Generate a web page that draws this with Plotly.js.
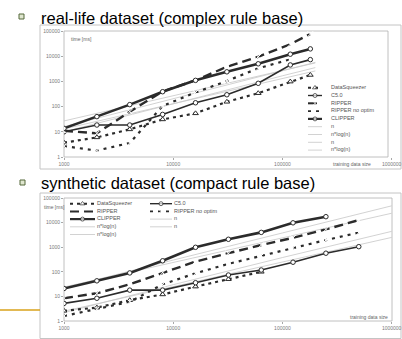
<!DOCTYPE html>
<html><head><meta charset="utf-8">
<script src="https://cdn.plot.ly/plotly-3.0.1.min.js"></script>
<style>html,body{margin:0;padding:0;background:#fff;overflow:hidden}#chart{width:402px;height:339px}</style>
</head><body><div id="chart"></div>
<script>
// ---------- data ----------
const seriesNames = ['DataSqueezer', 'C5.0', 'RIPPER', 'RIPPER no optim', 'CLIPPER'];
const refNames = ['n', 'n*log(n)', 'n', 'n*log(n)'];

const realX = [1000, 2000, 4000, 8000, 16000, 31000, 60000, 118000, 180000];
const realDataSqueezer = [3.7, 6, 12.5, 31, 54, 155, 340, 980, 1800];
const realC50 = [10, 18.6, 18.6, 49, 142, 295, 840, 4500, 7300];
const realRipper = [11, 8.7, 63, 400, 1100, 3800, 9500, 30000, 76000];
const realRipperNoOpt = [2.7, 1.8, 3.6, 106, 365, 1040, 3300, 7500, null];
const realClipper = [13.7, 40, 120, 390, 1100, 2400, 5000, 12000, 19500];
const realRefX = [1000, 10000, 100000, 200000];
const realRefN1 = [27, 270, 2700, 5400];
const realRefNlogN1 = [10, 133, 1670, 3530];
const realRefN2 = [13, 130, 1300, 2600];
const realRefNlogN2 = [16, 210, 2700, 5700];

const synX = [1000, 2000, 4000, 8000, 16000, 32000, 64000, 125000, 250000, 500000];
const synDataSqueezer = [2.6, 3.5, 7, 12, 25, 50, 100, null, null, null];
const synC50 = [5.2, 8.4, 18, 18, 36, 74, 118, 245, 570, 1050];
const synRipper = [8.4, 13.4, 31, 92, 260, 570, 1230, 2400, 5300, 12600];
const synRipperNoOpt = [1.6, 3, 6, 31, 87, 210, 450, 960, 1950, 3900];
const synClipper = [21, 43, 90, 280, 990, 2100, 4000, 9800, 17400, null];
const synRefX = [1000, 10000, 100000, 1000000];
const synRefN1 = [24, 240, 2400, 24000];
const synRefNlogN1 = [22, 300, 3800, 48000];
const synRefN2 = [2.5, 25, 250, 2500];
const synRefNlogN2 = [2.2, 30, 380, 4400];

const yTickVals = [1, 10, 100, 1000, 10000, 100000];
const yTickText = ['1', '10', '100', '1000', '10000', '100000'];
const xTickVals = [1000, 10000, 100000, 1000000];
const xTickText = ['1000', '10000', '100000', '1000000'];

const bulletTexts = ['real-life dataset (complex rule base)', 'synthetic dataset (compact rule base)'];
const yTitle = 'time [ms]';
const xTitle = 'training data size';

// ---------- styles ----------
const W = 402, H = 339;
const px = x => x / W;
const py = y => 1 - y / H;
const FONT = 'Liberation Sans, Arial, sans-serif';
const INK = '#2b2b2b';
const styles = [
  {dash: '3px,4px', width: 2.2, symbol: 'triangle-up', size: 5},
  {dash: 'solid', width: 1.6, symbol: 'circle', size: 4.5},
  {dash: '9px,5px', width: 2.4, symbol: 'x-thin-open', size: 5.5},
  {dash: '3px,5px', width: 2.2, symbol: 'x-thin-open', size: 5.5},
  {dash: 'solid', width: 2.6, symbol: 'circle', size: 4.5}
];
const refStyle = {color: '#c6c6c6', width: 0.8};

function seriesTrace(x, y, i, xa, ya) {
  const s = styles[i];
  return {x, y, xaxis: xa, yaxis: ya, type: 'scatter', mode: 'lines+markers', name: seriesNames[i],
    connectgaps: false, showlegend: false, hoverinfo: 'skip',
    line: {color: INK, width: s.width, dash: s.dash},
    marker: {symbol: s.symbol, size: s.size, color: '#fff', line: {color: INK, width: 1}}};
}
function refTrace(x, y, i, xa, ya) {
  return {x, y, xaxis: xa, yaxis: ya, type: 'scatter', mode: 'lines', name: refNames[i],
    showlegend: false, hoverinfo: 'skip', line: {color: refStyle.color, width: refStyle.width}};
}

const traces = [];
[realRefN1, realRefNlogN1, realRefN2, realRefNlogN2].forEach((y, i) => traces.push(refTrace(realRefX, y, i, 'x', 'y')));
[synRefN1, synRefNlogN1, synRefN2, synRefNlogN2].forEach((y, i) => traces.push(refTrace(synRefX, y, i, 'x2', 'y2')));
[realDataSqueezer, realC50, realRipper, realRipperNoOpt, realClipper].forEach((y, i) => traces.push(seriesTrace(realX, y, i, 'x', 'y')));
[synDataSqueezer, synC50, synRipper, synRipperNoOpt, synClipper].forEach((y, i) => traces.push(seriesTrace(synX, y, i, 'x2', 'y2')));

// ---------- manual legends (own hidden axes, pixel units) ----------
const legendLabels = seriesNames.concat(refNames);
function legendEntry(x0, x1, xt, yv, i, xa, ya) {
  const isRef = i >= seriesNames.length;
  const xm = (x0 + x1) / 2;
  if (isRef) {
    traces.push({x: [x0, x1], y: [yv, yv], xaxis: xa, yaxis: ya, mode: 'lines', showlegend: false, hoverinfo: 'skip',
      line: {color: refStyle.color, width: refStyle.width}});
  } else {
    const s = styles[i];
    traces.push({x: [x0, xm, x1], y: [yv, yv, yv], xaxis: xa, yaxis: ya, mode: 'lines+markers', showlegend: false, hoverinfo: 'skip',
      line: {color: INK, width: s.width * 0.85, dash: s.dash},
      marker: {symbol: s.symbol, size: [0, s.size - 0.5, 0], color: '#fff', line: {color: INK, width: 1}}});
  }
  traces.push({x: [xt], y: [yv], xaxis: xa, yaxis: ya, mode: 'text', text: [legendLabels[i]], textposition: 'middle right',
    showlegend: false, hoverinfo: 'skip', cliponaxis: false, textfont: {size: 5.5, color: '#555', family: FONT}});
}
legendLabels.forEach((l, i) => legendEntry(308, 322, 331, 87.7 + 7.8 * i, i, 'x3', 'y3'));
legendLabels.forEach((l, i) => {
  const col = i % 2, row = Math.floor(i / 2);
  if (col === 0) legendEntry(70, 95, 97, 203.7 + 7.7 * row, i, 'x4', 'y4');
  else legendEntry(150, 172, 174, 203.7 + 7.7 * row, i, 'x4', 'y4');
});

// ---------- layout ----------
const tickFont = {size: 5, color: '#7a7a7a', family: FONT};
function xAxis(domain, anchor) {
  return {type: 'log', domain, range: [3, 6.003], anchor, autorange: false, showline: false, ticks: 'outside', ticklen: 2,
    tickcolor: '#a8a8a8', tickvals: xTickVals, ticktext: xTickText, tickfont: tickFont, ticklabeloverflow: 'allow',
    showgrid: false, zeroline: false, fixedrange: true};
}
function yAxis(domain, anchor) {
  return {type: 'log', domain, range: [0, 5], anchor, autorange: false, showline: false, ticks: 'outside', ticklen: 2,
    tickcolor: '#a8a8a8', tickvals: yTickVals, ticktext: yTickText, tickfont: tickFont, ticklabeloverflow: 'allow',
    showgrid: false, zeroline: false, fixedrange: true};
}
function hidden(domain, range, anchor) {
  return {domain, range, anchor, visible: false, fixedrange: true, autorange: false};
}
function rect(x0, y0, x1, y1, color, width, fill) {
  return {type: 'rect', xref: 'paper', yref: 'paper', x0: px(x0), x1: px(x1), y0: py(y1), y1: py(y0),
    line: {color, width}, fillcolor: fill || 'rgba(0,0,0,0)', layer: 'below'};
}

const layout = {
  width: W, height: H, margin: {l: 0, r: 0, t: 0, b: 0}, paper_bgcolor: '#fff', plot_bgcolor: 'rgba(0,0,0,0)',
  showlegend: false, font: {family: FONT},
  xaxis: xAxis([px(64), px(392)], 'y'),
  yaxis: yAxis([py(157), py(31)], 'x'),
  xaxis2: xAxis([px(64), px(392)], 'y2'),
  yaxis2: yAxis([py(321), py(198)], 'x2'),
  xaxis3: hidden([px(300), px(400)], [300, 400], 'y3'),
  yaxis3: hidden([py(158), py(80)], [158, 80], 'x3'),
  xaxis4: hidden([px(60), px(240)], [60, 240], 'y4'),
  yaxis4: hidden([py(242), py(198)], [242, 198], 'x4'),
  shapes: [
    rect(40, 25, 401, 169, '#c4c4c4', 1),
    rect(64, 31, 388, 157, '#b0b0b0', 0.8),
    rect(40, 193, 401, 338.5, '#c4c4c4', 1),
    rect(64, 198, 392, 321, '#b0b0b0', 0.8),
    {type: 'line', xref: 'paper', yref: 'paper', x0: 0, x1: px(40), y0: py(310), y1: py(310), line: {color: '#d9a21b', width: 1.5}},
    rect(19, 14, 24, 19, '#55683a', 1, '#dfe6cf'),
    rect(20, 180, 25, 185, '#55683a', 1, '#dfe6cf')
  ],
  annotations: [
    {text: bulletTexts[0], xref: 'paper', yref: 'paper', x: px(39), y: py(17.5), xanchor: 'left', yanchor: 'middle', showarrow: false,
      font: {size: 16.5, color: '#000', family: FONT}},
    {text: bulletTexts[1], xref: 'paper', yref: 'paper', x: px(39), y: py(182.5), xanchor: 'left', yanchor: 'middle', showarrow: false,
      font: {size: 16.5, color: '#000', family: FONT}},
    {text: yTitle, xref: 'paper', yref: 'paper', x: px(69), y: py(39), xanchor: 'left', yanchor: 'middle', showarrow: false,
      font: {size: 5, color: '#666', family: FONT}},
    {text: yTitle, xref: 'paper', yref: 'paper', x: px(42), y: py(207), xanchor: 'left', yanchor: 'middle', showarrow: false,
      font: {size: 5, color: '#666', family: FONT}},
    {text: xTitle, xref: 'paper', yref: 'paper', x: px(373), y: py(164), xanchor: 'right', yanchor: 'middle', showarrow: false,
      font: {size: 5, color: '#666', family: FONT}},
    {text: xTitle, xref: 'paper', yref: 'paper', x: px(390), y: py(316.5), xanchor: 'right', yanchor: 'middle', showarrow: false,
      font: {size: 5, color: '#666', family: FONT}}
  ]
};

Plotly.newPlot('chart', traces, layout, {staticPlot: true, displayModeBar: false});
</script>
</body></html>
